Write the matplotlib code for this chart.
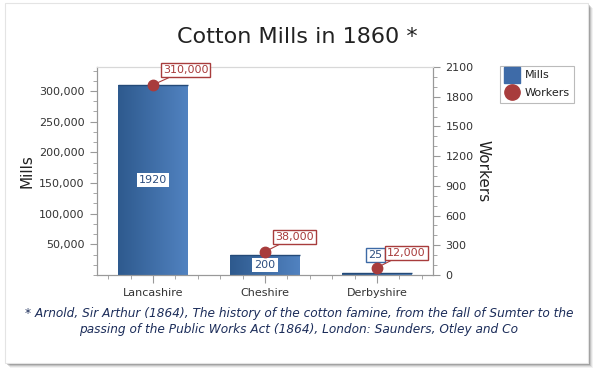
import numpy as np
import matplotlib
matplotlib.use("Agg")
import matplotlib.pyplot as plt
from matplotlib.patches import Rectangle
from matplotlib.lines import Line2D
from matplotlib.ticker import MultipleLocator, FuncFormatter
from matplotlib.colors import LinearSegmentedColormap

# data
counties = ["Lancashire", "Cheshire", "Derbyshire"]
mills = [1920, 200, 25]
workers = [310000, 38000, 12000]

title = "Cotton Mills in 1860 *"
note1 = "* Arnold, Sir Arthur (1864), The history of the cotton famine, from the fall of Sumter to the"
note2 = "passing of the Public Works Act (1864), London: Saunders, Otley and Co"

W, H = 598, 377
fig = plt.figure(figsize=(W / 100, H / 100), dpi=100)
fig.patch.set_facecolor("white")

def fx(px): return px / W
def fy(py): return 1 - py / H

# panel with shadow
for i, a in enumerate([0.05, 0.08, 0.12, 0.18]):
    off = 5 - i
    fig.patches.append(Rectangle((fx(5 + off), fy(363 + off)), fx(583), 360 / H,
                                 transform=fig.transFigure, facecolor="black",
                                 alpha=a, edgecolor="none", zorder=0))
fig.patches.append(Rectangle((fx(5), fy(363)), fx(583), 360 / H,
                             transform=fig.transFigure, facecolor="white",
                             edgecolor="#e4e4e4", lw=0.8, zorder=1))

ax = fig.add_axes([fx(97), fy(275), fx(336), 208 / H])   # bars (mills)
ax2 = ax.twinx()                                         # points (workers)
ax.set_zorder(2)
ax2.set_zorder(3)
ax.patch.set_visible(False)
ax2.patch.set_visible(False)

x = np.arange(len(counties))
cmap = LinearSegmentedColormap.from_list("bar", ["#2e5a8e", "#5182c0"])
bars = ax.bar(x, mills, width=0.62, color="none", edgecolor="none")
grad = np.linspace(0, 1, 100).reshape(1, -1)
for b in bars:
    im = ax.imshow(grad, cmap=cmap, aspect="auto", zorder=2,
                   extent=(b.get_x(), b.get_x() + b.get_width(), 0, b.get_height()))
    im.set_clip_path(b)
    ax.plot([b.get_x(), b.get_x() + b.get_width()], [b.get_height()] * 2,
            color="#244a78", lw=1, zorder=3, solid_capstyle="butt")

ax.set_xlim(-0.5, 2.5)
ax.set_ylim(0, 2100)
ax2.set_ylim(0, 310000 / 1920 * 2100)

ax2.plot(x, workers, "o", color="#a83c3c", ms=7.5, zorder=5, clip_on=False)

# bar labels
for i, (xi, m) in enumerate(zip(x, mills)):
    if m > 150:
        ax.text(xi, m / 2, str(m), ha="center", va="center", fontsize=8, color="#2e4f80",
                zorder=6, bbox=dict(boxstyle="square,pad=0.2", fc="white", ec="none"))
    else:
        ax.annotate(str(m), (xi, m), xytext=(-1, 9), textcoords="offset points",
                    ha="center", va="bottom", fontsize=8, color="#2e4f80", zorder=6,
                    bbox=dict(boxstyle="square,pad=0.2", fc="white", ec="#3d6aa6", lw=1))

# point labels
for xi, w in zip(x, workers):
    ax2.annotate(f"{w:,}", (xi, w), xytext=(7, 7), textcoords="offset points",
                 ha="left", va="bottom", fontsize=8, color="#a83c3c", zorder=7,
                 bbox=dict(boxstyle="square,pad=0.2", fc="white", ec="#a83c3c", lw=1),
                 arrowprops=dict(arrowstyle="-", color="#a83c3c", lw=0.8,
                                 shrinkA=0, shrinkB=3))

# axes styling
axis_col = "#999999"
for a in (ax, ax2):
    for s in a.spines.values():
        s.set_color(axis_col)
        s.set_linewidth(0.8)
ax.spines["top"].set_color("#d8d8d8")
ax2.spines["top"].set_color("#d8d8d8")

ax.set_xticks(x)
ax.set_xticklabels(counties, fontsize=8, color="#333333")
ax.xaxis.set_minor_locator(MultipleLocator(0.2))
ax.tick_params(axis="x", which="major", length=6, color=axis_col, pad=3)
ax.tick_params(axis="x", which="minor", length=3, color=axis_col)

ax.yaxis.tick_right()
ax.yaxis.set_label_position("right")
ax.yaxis.set_major_locator(MultipleLocator(300))
ax.yaxis.set_minor_locator(MultipleLocator(100))
ax.tick_params(axis="y", which="major", length=5, color=axis_col, labelsize=8,
               labelcolor="#333333", pad=4)
ax.tick_params(axis="y", which="minor", length=3, color=axis_col)
ax.set_ylabel("Workers", rotation=270, fontsize=11, color="#222222", labelpad=12)

ax2.yaxis.tick_left()
ax2.yaxis.set_label_position("left")
ax2.set_yticks(np.arange(50000, 300001, 50000))
ax2.yaxis.set_major_formatter(FuncFormatter(lambda v, p: f"{int(v):,}"))
ax2.yaxis.set_minor_locator(MultipleLocator(50000 / 3))
ax2.tick_params(axis="y", which="major", length=5, color=axis_col, labelsize=8,
                labelcolor="#333333", pad=4)
ax2.tick_params(axis="y", which="minor", length=3, color=axis_col)
ax2.set_ylabel("Mills", fontsize=11, color="#222222", labelpad=3)

fig.text(fx(297), fy(37), title, ha="center", va="center", fontsize=16, color="#222222")

# legend
handles = [Line2D([], [], marker="s", ls="none", color="#3e6ba8", ms=12),
           Line2D([], [], marker="o", ls="none", color="#a83c3c", ms=11)]
leg = fig.legend(handles, ["Mills", "Workers"], loc="upper left",
                 bbox_to_anchor=(fx(500), fy(66)), fontsize=8, frameon=True,
                 fancybox=False, borderpad=0.4, handletextpad=0.4, labelspacing=0.7,
                 handlelength=1.4, borderaxespad=0)
leg.get_frame().set_edgecolor("#aaaaaa")
leg.get_frame().set_linewidth(0.8)
for t in leg.get_texts():
    t.set_color("#222222")

fig.text(fx(299), fy(313), note1, ha="center", va="center", fontsize=8.7,
         style="italic", color="#1c2d5a")
fig.text(fx(299), fy(330), note2, ha="center", va="center", fontsize=8.7,
         style="italic", color="#1c2d5a")

fig.savefig("out.png", dpi=100)
